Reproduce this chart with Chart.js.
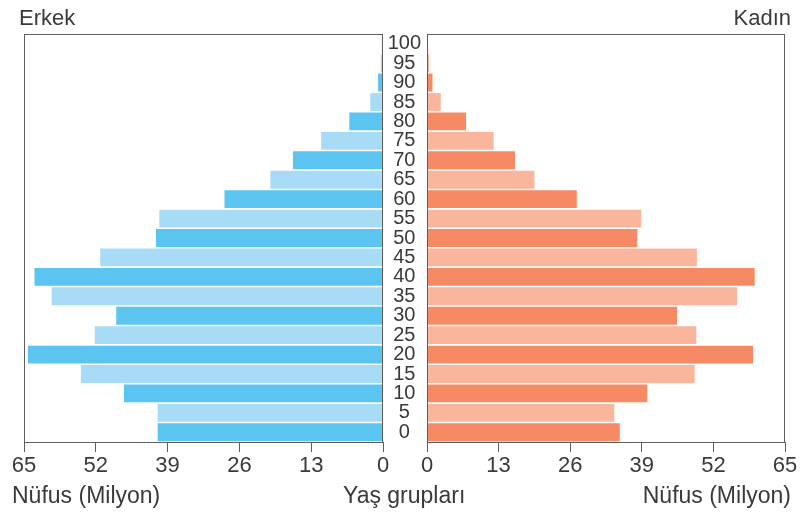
<!DOCTYPE html>
<html><head><meta charset="utf-8">
<script src="https://cdn.jsdelivr.net/npm/chart.js@4/dist/chart.umd.min.js"></script>
<style>
html,body{margin:0;padding:0;background:#fff;}
#wrap{position:relative;width:800px;height:517px;overflow:hidden;font-family:'Liberation Sans',Arial,sans-serif;color:#3a3a3a;}
canvas{position:absolute;top:0;}
#left{left:0;}
#right{left:380px;}
.t{position:absolute;line-height:1;white-space:nowrap;}
</style></head><body>
<div id="wrap">
<canvas id="left" width="400" height="517"></canvas>
<canvas id="right" width="420" height="517"></canvas>
<div class="t" style="left:19px;top:7px;font-size:22px">Erkek</div>
<div class="t" style="right:9px;top:7px;font-size:22px">Kadın</div>
<div class="t" style="left:12px;top:484px;font-size:23px">Nüfus (Milyon)</div>
<div class="t" style="left:343px;top:484px;font-size:23px">Yaş grupları</div>
<div class="t" style="right:9px;top:484px;font-size:23px">Nüfus (Milyon)</div>
</div>
<script>
const ageGroups = ['0','5','10','15','20','25','30','35','40','45','50','55','60','65','70','75','80','85','90','95','100'];
const male   = [40.8, 40.8, 46.9, 54.7, 64.3, 52.2, 48.3, 60.0, 63.1, 51.2, 41.1, 40.5, 28.7, 20.4, 16.3, 11.2, 6.1, 2.3, 0.9, 0.4, 0.2];
const female = [35.0, 34.0, 40.0, 48.6, 59.2, 48.9, 45.4, 56.3, 59.5, 49.0, 38.2, 38.9, 27.2, 19.5, 16.0, 12.1, 7.1, 2.5, 1.0, 0.4, 0.2];
const xTicks = [0, 13, 26, 39, 52, 65];

const FONT = "'Liberation Sans', Arial, sans-serif";
const lineColor = '#5e5e5e';
const textColor = '#3a3a3a';
const maleDark = '#5cc4f0', maleLight = '#a8dcf6';
const femDark = '#f58a64', femLight = '#f9b69d';

const frame = {
  id: 'frame',
  afterDraw(chart) {
    const a = chart.chartArea, ctx = chart.ctx;
    ctx.save();
    ctx.strokeStyle = lineColor;
    ctx.lineWidth = 1;
    ctx.strokeRect(Math.round(a.left) + 0.5, Math.round(a.top) + 0.5, Math.round(a.right) - Math.round(a.left) - 1, Math.round(a.bottom) - Math.round(a.top));
    ctx.restore();
  }
};

function xScale(reverse) {
  return {
    min: 0, max: 65, reverse: reverse,
    afterBuildTicks(s) { s.ticks = xTicks.map(v => ({value: v})); },
    ticks: { color: textColor, font: {family: FONT, size: 22}, padding: 1, maxRotation: 0, autoSkip: false },
    grid: { drawOnChartArea: false, drawTicks: true, tickLength: 10, color: lineColor },
    border: { color: lineColor, width: 1 },
    afterFit(s) { s.height = 40; }
  };
}

new Chart(document.getElementById('left'), {
  type: 'bar',
  data: { labels: ageGroups, datasets: [{ data: male,
    backgroundColor: ageGroups.map((a, i) => i % 2 === 0 ? maleDark : maleLight),
    barPercentage: 0.92, categoryPercentage: 1 }] },
  options: {
    indexAxis: 'y', responsive: false, animation: false,
    layout: { padding: { left: 24, right: 17, top: 34, bottom: 35 } },
    plugins: { legend: { display: false }, tooltip: { enabled: false } },
    scales: {
      x: xScale(true),
      y: { position: 'right', reverse: true, ticks: { display: false },
           grid: { display: false, drawTicks: false }, border: { display: false },
           afterFit(s) { s.width = 0; } }
    }
  },
  plugins: [frame]
});

new Chart(document.getElementById('right'), {
  type: 'bar',
  data: { labels: ageGroups, datasets: [{ data: female,
    backgroundColor: ageGroups.map((a, i) => i % 2 === 0 ? femDark : femLight),
    barPercentage: 0.92, categoryPercentage: 1 }] },
  options: {
    indexAxis: 'y', responsive: false, animation: false,
    layout: { padding: { left: 0, right: 15, top: 34, bottom: 35 } },
    plugins: { legend: { display: false }, tooltip: { enabled: false } },
    scales: {
      x: xScale(false),
      y: { position: 'left', reverse: true,
           ticks: { color: textColor, font: {family: FONT, size: 20, lineHeight: 1}, autoSkip: false, crossAlign: 'center', padding: 6 },
           grid: { display: false, drawTicks: false }, border: { display: false },
           afterFit(s) { s.width = 47; } }
    }
  },
  plugins: [frame]
});
</script>
</body></html>
